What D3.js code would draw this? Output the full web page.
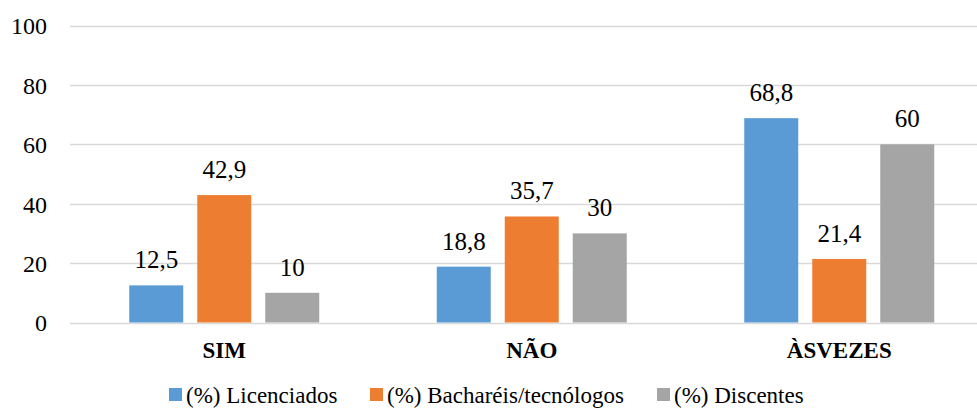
<!DOCTYPE html>
<html><head><meta charset="utf-8">
<script src="https://cdn.jsdelivr.net/npm/d3@7"></script>
<style>body{margin:0;background:#fff}svg{display:block}</style>
</head><body><svg id="c" width="977" height="408"></svg>
<script>
const categories = ["SIM", "NÃO", "ÀSVEZES"];
const seriesNames = ["(%) Licenciados", "(%) Bacharéis/tecnólogos", "(%) Discentes"];
const licenciados = [12.5, 18.8, 68.8];
const bachareis = [42.9, 35.7, 21.4];
const discentes = [10, 30, 60];
const yTicks = [0, 20, 40, 60, 80, 100];
const colors = ["#5B9BD5", "#ED7D31", "#A5A5A5"];
const series = [licenciados, bachareis, discentes];
const FONT = "'Liberation Serif', 'Times New Roman', Times, 'DejaVu Serif', serif";

const svg = d3.select("#c");
const x = d3.scaleBand().domain(categories).range([70.5, 993]);
const y = d3.scaleLinear().domain([0, 100]).range([322.5, 25.5]);
const barW = 54, gap = 14;
const inner = d3.scaleBand().domain(d3.range(3)).range([-(barW*1.5+gap), barW*1.5+gap]).paddingInner(gap/(barW+gap));

svg.append("g").selectAll("line").data(yTicks).join("line")
  .attr("x1", 70).attr("x2", 977)
  .attr("y1", d => Math.round(y(d))+0.5).attr("y2", d => Math.round(y(d))+0.5)
  .attr("stroke", "#D9D9D9").attr("stroke-width", 1.3);

const yAxis = d3.axisLeft(y).tickValues(yTicks).tickSize(0).tickPadding(0);
const ya = svg.append("g").attr("transform", "translate(47,0)").call(yAxis);
ya.attr("font-family", null).attr("font-size", null);
ya.select(".domain").remove();
ya.selectAll("text").style("font-family", FONT).style("font-size", "24px").attr("fill", "#000").attr("dy", "0.35em");

series.forEach((s, si) => {
  const g = svg.append("g");
  g.selectAll("rect").data(s).join("rect")
    .attr("x", (d, i) => x(categories[i]) + x.bandwidth()/2 + inner(si))
    .attr("width", inner.bandwidth())
    .attr("y", d => y(d)).attr("height", d => y(0) - y(d))
    .attr("fill", colors[si]);
  g.selectAll("text").data(s).join("text")
    .attr("x", (d, i) => x(categories[i]) + x.bandwidth()/2 + inner(si) + inner.bandwidth()/2)
    .attr("y", d => y(d) - 17)
    .attr("text-anchor", "middle")
    .style("font-family", FONT).style("font-size", "25px")
    .text(d => String(d).replace(".", ","));
});

const xAxis = d3.axisBottom(x).tickSize(0).tickPadding(0);
const xa = svg.append("g").attr("transform", "translate(0,358)").call(xAxis);
xa.attr("font-family", null).attr("font-size", null);
xa.select(".domain").remove();
xa.selectAll("text").style("font-family", FONT).style("font-size", "23px").style("font-weight", "bold").attr("fill", "#000").attr("dy", 0);

const legendX = [169, 370, 657];
const lg = svg.append("g");
seriesNames.forEach((n, i) => {
  lg.append("rect").attr("x", legendX[i]).attr("y", 388).attr("width", 13).attr("height", 13).attr("fill", colors[i]);
  lg.append("text").attr("x", legendX[i] + 17).attr("y", 403)
    .style("font-family", FONT).style("font-size", "23px").text(n);
});
</script></body></html>
